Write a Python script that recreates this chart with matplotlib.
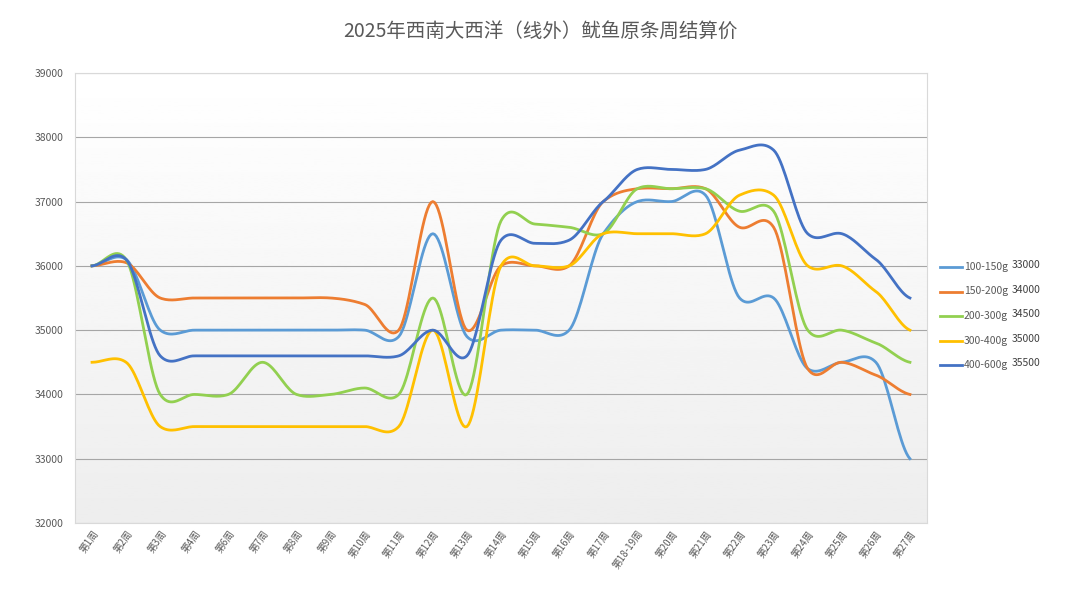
import numpy as np
import matplotlib.pyplot as plt
from matplotlib.lines import Line2D

plt.rcParams["font.family"] = ["Noto Sans CJK SC", "DejaVu Sans"]

weeks = ["第1周", "第2周", "第3周", "第4周", "第6周", "第7周", "第8周", "第9周", "第10周",
         "第11周", "第12周", "第13周", "第14周", "第15周", "第16周", "第17周", "第18-19周",
         "第20周", "第21周", "第22周", "第23周", "第24周", "第25周", "第26周", "第27周"]

s_100_150 = [36000, 36100, 35000, 35000, 35000, 35000, 35000, 35000, 35000, 34900, 36500, 34900,
             35000, 35000, 35000, 36500, 37000, 37000, 37100, 35500, 35500, 34400, 34500, 34500, 33000]
s_150_200 = [36000, 36050, 35500, 35500, 35500, 35500, 35500, 35500, 35400, 35000, 37000, 35000,
             36000, 36000, 36000, 37000, 37200, 37200, 37200, 36600, 36600, 34400, 34500, 34300, 34000]
s_200_300 = [36000, 36100, 34000, 34000, 34000, 34500, 34000, 34000, 34100, 34000, 35500, 34000,
             36700, 36650, 36600, 36500, 37200, 37200, 37200, 36850, 36850, 35000, 35000, 34800, 34500]
s_300_400 = [34500, 34500, 33500, 33500, 33500, 33500, 33500, 33500, 33500, 33500, 35000, 33500,
             36000, 36000, 36000, 36500, 36500, 36500, 36500, 37100, 37100, 36000, 36000, 35600, 35000]
s_400_600 = [36000, 36100, 34600, 34600, 34600, 34600, 34600, 34600, 34600, 34600, 35000, 34600,
             36400, 36350, 36400, 37000, 37500, 37500, 37500, 37800, 37800, 36500, 36500, 36100, 35500]

series = [
    ("100-150g", "33000", s_100_150, "#5B9BD5"),
    ("150-200g", "34000", s_150_200, "#ED7D31"),
    ("200-300g", "34500", s_200_300, "#92D050"),
    ("300-400g", "35000", s_300_400, "#FFC000"),
    ("400-600g", "35500", s_400_600, "#4472C4"),
]


def smooth(y, n=20, k=0.75):
    # cardinal spline, similar to Excel's smoothed line
    y = np.asarray(y, float)
    p = np.concatenate([[y[0]], y, [y[-1]]])
    m = k * 0.5 * (p[2:] - p[:-2])
    xs, ys = [], []
    t = np.linspace(0, 1, n, endpoint=False)
    h00 = 2 * t**3 - 3 * t**2 + 1
    h10 = t**3 - 2 * t**2 + t
    h01 = -2 * t**3 + 3 * t**2
    h11 = t**3 - t**2
    for i in range(len(y) - 1):
        xs.append(i + t)
        ys.append(h00 * y[i] + h10 * m[i] + h01 * y[i + 1] + h11 * m[i + 1])
    xs.append([len(y) - 1])
    ys.append([y[-1]])
    return np.concatenate(xs), np.concatenate(ys)


fig = plt.figure(figsize=(10.8, 5.92), dpi=100)
ax = fig.add_axes([75 / 1080, 1 - 523 / 592, 852 / 1080, 450 / 592])

x = np.arange(len(weeks))
ax.set_xlim(-0.5, len(weeks) - 0.5)
ax.set_ylim(32000, 39000)
grad = np.linspace(0.93, 1.0, 256).reshape(-1, 1)
ax.imshow(grad, cmap="gray", vmin=0, vmax=1, aspect="auto",
          extent=(-0.5, len(weeks) - 0.5, 32000, 39000), origin="lower", zorder=0)

for name, val, ys, c in series:
    sx, sy = smooth(ys)
    ax.plot(sx, sy, color=c, lw=2, zorder=3)

ax.set_yticks(np.arange(32000, 39001, 1000))
ax.grid(axis="y", color="#a6a6a6", lw=0.8, zorder=1)
ax.set_axisbelow(True)
ax.set_xticks(x)
ax.set_xticklabels(weeks, rotation=55, ha="right", rotation_mode="anchor",
                   fontsize=7, color="#595959")
ax.tick_params(axis="y", labelsize=7.5, colors="#595959", length=0, pad=8)
ax.tick_params(axis="x", length=0, pad=4)
for s in ax.spines.values():
    s.set_color("#d9d9d9")

fig.text(0.5, 1 - 31 / 592, "2025年西南大西洋（线外）鱿鱼原条周结算价",
         ha="center", va="center", fontsize=14, color="#595959")

# legend drawn by hand so the value notes line up with each entry
for i, (name, val, ys, c) in enumerate(series):
    yy = 1 - (267 + i * 24.5) / 592
    fig.add_artist(Line2D([940 / 1080, 962 / 1080], [yy, yy], color=c, lw=2,
                          transform=fig.transFigure))
    fig.text(964 / 1080, yy, name, fontsize=7.5, va="center", color="#595959")
    fig.text(1012 / 1080, yy + 0.003, val, fontsize=7.5, va="center", color="#404040")

fig.savefig("out.png", dpi=100)
